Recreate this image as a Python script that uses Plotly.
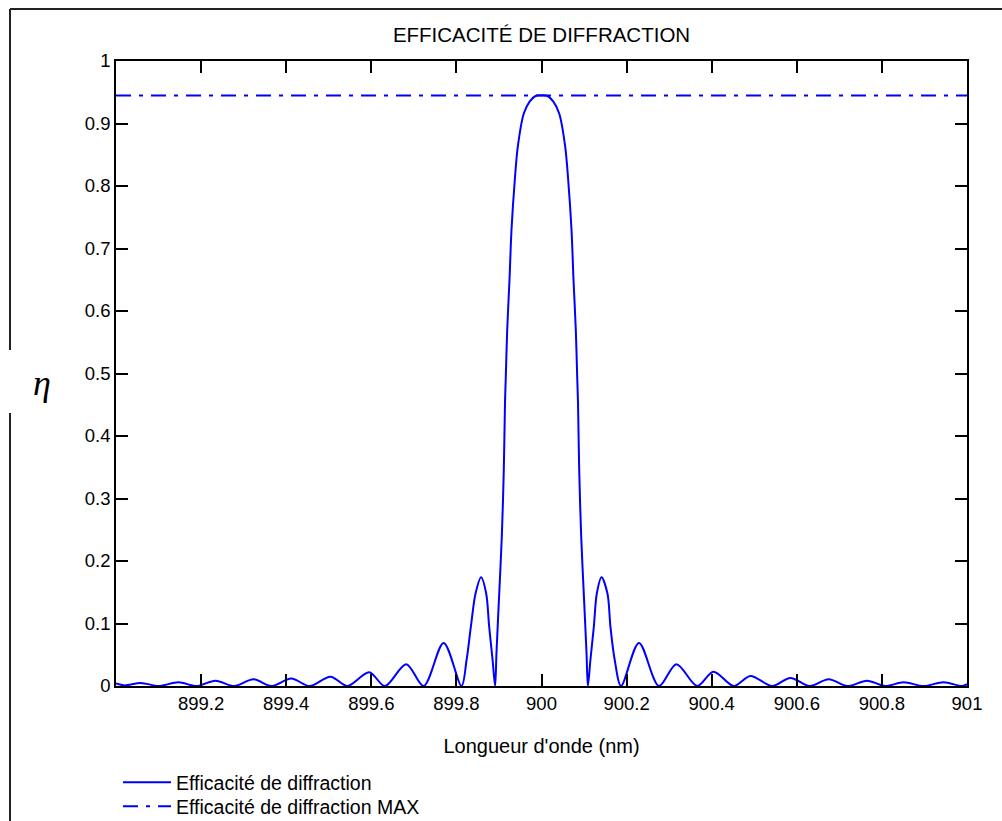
import plotly.graph_objects as go

# ---- data ----
wavelength_nm = [
    899.000, 899.020, 899.058, 899.100, 899.147, 899.189, 899.234, 899.278,
    899.323, 899.365, 899.412, 899.455, 899.504, 899.544, 899.595, 899.632,
    899.682, 899.723, 899.770, 899.812, 899.824, 899.834, 899.845, 899.858,
    899.870, 899.877, 899.885, 899.891,
    899.8942, 899.8996, 899.9067, 899.9114, 899.9142, 899.9161, 899.9194,
    899.9248, 899.9295, 899.9373, 899.9443, 899.9584, 899.9720, 899.9859, 900.000,
    900.0141, 900.0280, 900.0416, 900.0557, 900.0627, 900.0705, 900.0752,
    900.0806, 900.0839, 900.0858, 900.0886, 900.0933, 900.1004, 900.1058,
    900.109, 900.115, 900.123, 900.130, 900.141, 900.155, 900.162, 900.172,
    900.187, 900.229, 900.276, 900.317, 900.366, 900.404, 900.452, 900.491,
    900.542, 900.585, 900.630, 900.675, 900.719, 900.765, 900.808, 900.851,
    900.898, 900.945, 900.989, 901.000,
]
efficiency = [
    0.004, 0.001, 0.005, 0.000, 0.006, 0.000, 0.0085, 0.000,
    0.011, 0.000, 0.012, 0.000, 0.015, 0.000, 0.022, 0.000,
    0.035, 0.000, 0.069, 0.000, 0.042, 0.095, 0.148, 0.174,
    0.148, 0.095, 0.042, 0.000,
    0.053, 0.133, 0.239, 0.346, 0.453, 0.495, 0.570,
    0.650, 0.730, 0.810, 0.863, 0.916, 0.935, 0.944, 0.945,
    0.944, 0.935, 0.916, 0.863, 0.810, 0.730, 0.650,
    0.570, 0.495, 0.453, 0.346, 0.239, 0.133, 0.053,
    0.000, 0.042, 0.095, 0.148, 0.174, 0.148, 0.095, 0.042,
    0.000, 0.069, 0.000, 0.035, 0.000, 0.023, 0.000, 0.016,
    0.000, 0.013, 0.000, 0.011, 0.000, 0.0085, 0.000, 0.006,
    0.000, 0.006, 0.000, 0.003,
]
max_wavelength_nm = [899.0, 901.0]
max_efficiency = [0.945, 0.945]

x_tick_vals = [899.2, 899.4, 899.6, 899.8, 900.0, 900.2, 900.4, 900.6, 900.8, 901.0]
x_tick_text = ["899.2", "899.4", "899.6", "899.8", "900", "900.2", "900.4", "900.6", "900.8", "901"]
y_tick_vals = [0, 0.1, 0.2, 0.3, 0.4, 0.5, 0.6, 0.7, 0.8, 0.9, 1.0]
y_tick_text = ["0", "0.1", "0.2", "0.3", "0.4", "0.5", "0.6", "0.7", "0.8", "0.9", "1"]

FONT = "Liberation Sans, Arial, sans-serif"
BLUE = "#0000FF"

fig = go.Figure()
fig.add_trace(go.Scatter(
    x=wavelength_nm, y=efficiency, mode="lines",
    name="Efficacité de diffraction", legend="legend",
    line=dict(color=BLUE, width=2, shape="spline", smoothing=0.9),
))
fig.add_trace(go.Scatter(
    x=max_wavelength_nm, y=max_efficiency, mode="lines",
    name="Efficacité de diffraction MAX", legend="legend2",
    line=dict(color=BLUE, width=2, dash="15px,8px,4px,8px"),
))

axis_common = dict(
    showline=True, linecolor="black", linewidth=1.5, mirror="ticks",
    ticks="inside", ticklen=12, tickwidth=1.5, tickcolor="black",
    showgrid=False, zeroline=False, automargin=False,
    tickfont=dict(family=FONT, size=18.5, color="black"),
)

legend_common = dict(xanchor="left", yanchor="top",
                     bgcolor="rgba(0,0,0,0)", borderwidth=0, itemwidth=48,
                     font=dict(family=FONT, size=19.5, color="black"))

fig.update_layout(
    template="none",
    width=1002, height=821,
    margin=dict(l=116, r=35, t=61, b=135, autoexpand=False),
    paper_bgcolor="white", plot_bgcolor="white",
    font=dict(family=FONT, size=18, color="black"),
    title=dict(text="EFFICACITÉ DE DIFFRACTION", x=0.5, xref="paper",
               xanchor="center", y=1 - 35 / 821, yanchor="middle",
               font=dict(family=FONT, size=20.5, color="black")),
    xaxis=dict(range=[899.0, 901.0], tickmode="array", tickvals=x_tick_vals,
               ticktext=x_tick_text,
               title=dict(text="Longueur d'onde (nm)", standoff=26,
                          font=dict(family=FONT, size=20, color="black")),
               **axis_common),
    yaxis=dict(range=[0, 1], tickmode="array", tickvals=y_tick_vals,
               ticktext=y_tick_text, **axis_common),
    showlegend=True,
    legend=dict(x=2 / 851, y=-(763 - 686) / 625, **legend_common),
    legend2=dict(x=2 / 851, y=-(787 - 686) / 625, **legend_common),
)

# eta label
fig.add_annotation(text="<i>η</i>", xref="paper", yref="paper",
                   x=(42 - 116) / 851, y=(686 - 383) / 625,
                   showarrow=False, xanchor="center", yanchor="middle",
                   font=dict(family="Liberation Serif, Times New Roman, serif", size=36, color="black"))

# figure frame (top and left edge)
frame = dict(type="line", xref="paper", yref="paper",
             line=dict(color="#222222", width=2))
fig.add_shape(x0=(10 - 116) / 851, x1=(1004 - 116) / 851,
              y0=(686 - 9) / 625, y1=(686 - 9) / 625, **frame)
fig.add_shape(x0=(10 - 116) / 851, x1=(10 - 116) / 851,
              y0=(686 - 9) / 625, y1=(686 - 350) / 625, **frame)
fig.add_shape(x0=(10 - 116) / 851, x1=(10 - 116) / 851,
              y0=(686 - 413) / 625, y1=(686 - 823) / 625, **frame)

fig.write_html("out.html", config={"displayModeBar": False},
               post_script="document.body.style.margin='0';")
